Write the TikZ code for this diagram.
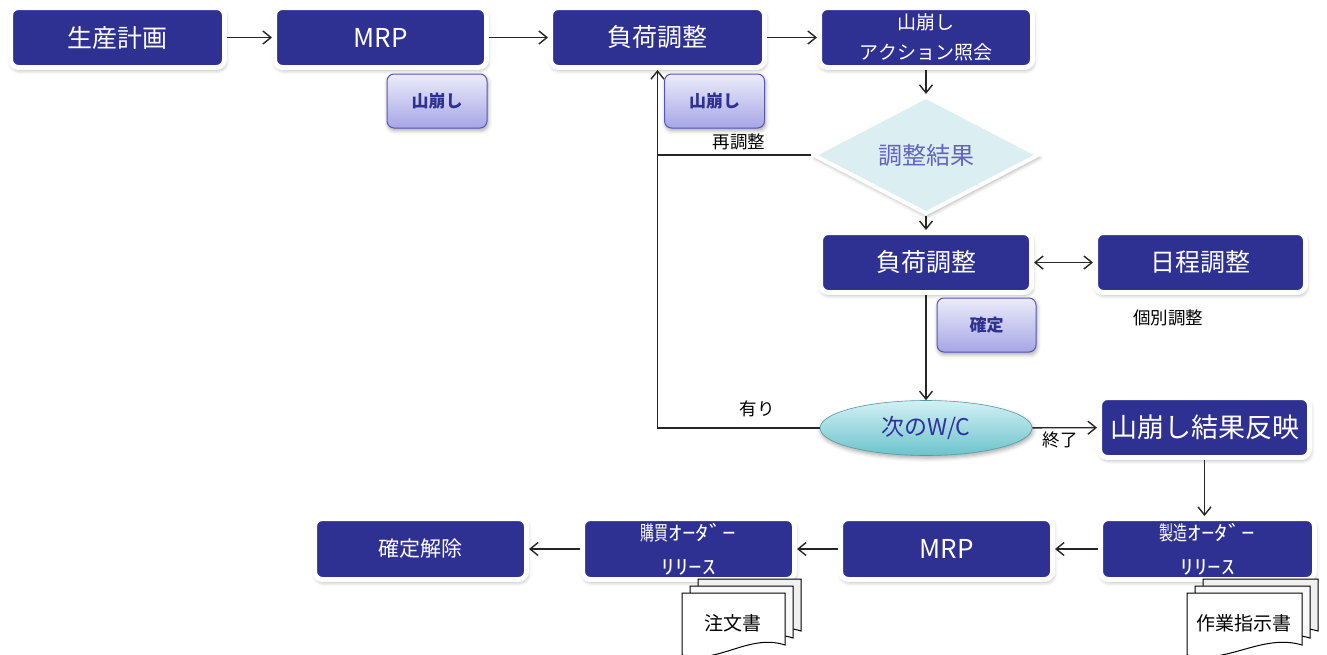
\documentclass[tikz,border=0pt]{standalone}
\usepackage{fontspec}
\setmainfont{Noto Sans CJK JP}
\newfontfamily\cjkn[FakeStretch=0.7]{Noto Sans CJK JP}
\newfontfamily\cjkw[FakeStretch=1.35]{Noto Sans CJK JP}
\usetikzlibrary{arrows.meta,shapes.geometric,shadows.blur}
\definecolor{navy}{HTML}{2E3192}
\definecolor{smtop}{HTML}{ECECFA}
\definecolor{smbot}{HTML}{A6A6E6}
\definecolor{smline}{HTML}{5656B2}
\definecolor{diafill}{HTML}{DBEEF1}
\definecolor{diatext}{HTML}{6363C6}
\definecolor{elltop}{HTML}{D2F1F4}
\definecolor{ellbot}{HTML}{6CC3CC}
\definecolor{elltext}{HTML}{3030A0}
\definecolor{lnc}{HTML}{262626}
\newcommand\docpage[4]{%
 \pgfmathsetmacro\dxr{#1+#3}\pgfmathsetmacro\ybr{#2+52}\pgfmathsetmacro\ybl{#2+62}%
 \pgfmathsetmacro\ca{#1+0.65*#3}\pgfmathsetmacro\cb{#1+0.35*#3}\pgfmathsetmacro\ya{#2+40}\pgfmathsetmacro\yb{#2+72}%
 \draw[docline,fill=#4] (#1,#2) -- (\dxr,#2) -- (\dxr,\ybr) .. controls (\ca,\ya) and (\cb,\yb) .. (#1,\ybl) -- cycle;}
\begin{document}
\begin{tikzpicture}[x=1pt,y=-1pt,
  shd/.style={blur shadow={shadow xshift=1pt, shadow yshift=-2.5pt, shadow blur radius=4pt, shadow opacity=35}},
  mainbox/.style={shd, draw=white, line width=5pt, fill=navy, rounded corners=8pt, text=white, inner sep=0pt, align=center, font=\fontsize{25}{27}\selectfont},
  twoline/.style={font=\fontsize{20}{34}\selectfont},
  smallbox/.style={shd, draw=smline, line width=1pt, top color=smtop, bottom color=smbot, rounded corners=7pt, minimum width=100, minimum height=54, text=navy, font=\fontsize{17}{19}\selectfont\bfseries, inner sep=0pt},
  lbl/.style={font=\fontsize{17.5}{19}\selectfont, text=black, inner sep=0pt},
  doctext/.style={font=\fontsize{19}{21}\selectfont, text=black, inner sep=0pt},
  docline/.style={draw=black, line width=1pt},
  ln/.style={draw=lnc, line width=1.4pt},
  arr/.style={ln, -{Straight Barb[length=8pt,width=13pt]}},
  darr/.style={ln, {Straight Barb[length=8pt,width=13pt]}-{Straight Barb[length=8pt,width=13pt]}}
]
\useasboundingbox (0,0) rectangle (1327,654);

% top row
\node[mainbox, minimum width=214, minimum height=60] (A) at (117.5,37.5) {生産計画};
\node[mainbox, minimum width=212, minimum height=60, font=\fontsize{26}{28}\selectfont] (B) at (380.5,37.5) {MRP};
\node[mainbox, minimum width=214, minimum height=60] (C) at (657.5,37.5) {負荷調整};
\node[mainbox, minimum width=213, minimum height=60, font=\fontsize{19}{30}\selectfont] (D) at (926,37.5) {山崩し\\アクション照会};
\node[smallbox] (S1) at (437,101) {山崩し};
\node[smallbox] (S2) at (714.5,101) {山崩し};

% diamond
\node[shd, diamond, draw=white, line width=4pt, fill=diafill, minimum width=226, minimum height=104, inner sep=0pt, text=diatext, font=\fontsize{24}{26}\selectfont] (E) at (926,155) {調整結果};

% middle
\node[mainbox, minimum width=211, minimum height=60] (F) at (926,262.5) {負荷調整};
\node[mainbox, minimum width=210, minimum height=60] (G) at (1200.5,262.5) {日程調整};
\node[smallbox, minimum width=99] (H) at (986.5,325) {確定};

\node[shd, ellipse, draw=ellbot!80!black, line width=0.6pt, top color=elltop, bottom color=ellbot, minimum width=212, minimum height=55, inner sep=0pt, text=elltext, font=\fontsize{23}{25}\selectfont] (I) at (926,428) {次のW/C};
\node[mainbox, minimum width=210, minimum height=60, font=\fontsize{27}{29}\selectfont] (J) at (1204.5,427.5) {山崩し結果反映};

% bottom row
\node[mainbox, minimum width=214, minimum height=61, twoline] (K) at (1207.5,549) {{\cjkn 製造}{\cjkw ｵｰﾀﾞｰ}\\{\cjkw ﾘﾘｰｽ}};
\node[mainbox, minimum width=212, minimum height=61, font=\fontsize{26}{28}\selectfont] (L) at (946.5,549) {MRP};
\node[mainbox, minimum width=212, minimum height=61, twoline] (M) at (688.5,549) {{\cjkn 購買}{\cjkw ｵｰﾀﾞｰ}\\{\cjkw ﾘﾘｰｽ}};
\node[mainbox, minimum width=212, minimum height=61, font=\fontsize{21}{23}\selectfont] (N) at (420.5,549) {確定解除};

% connectors
\draw[arr] (A) -- (B);
\draw[arr] (B) -- (C);
\draw[arr] (C) -- (D);
\draw[arr] (D) -- (E);
\draw[arr] (E) -- (F);
\draw[darr] (F) -- (G);
\draw[arr] (F) -- (I);
\draw[arr] (I) -- (J);
\draw[arr] (J.south) -- (J.south |- K.north);
\draw[arr] (K) -- (L);
\draw[arr] (L) -- (M);
\draw[arr] (M) -- (N);
\draw[ln] (E.west) -- (E.west -| C.south);
\draw[arr] (I.west) -| (C.south);

% labels
\node[lbl] (l1) at (739,142) {再調整};
\node[lbl] (l2) at (757,409) {有り};
\node[lbl] (l3) at (1060,440) {終了};
\node[lbl] (l4) at (1168,318) {個別調整};

% documents
\docpage{698}{579}{103}{gray!12}
\docpage{690}{586}{103}{gray!5}
\docpage{682}{593}{103}{white}
\node[doctext] (doc1) at (733,623) {注文書};
\docpage{1203}{579}{115}{gray!12}
\docpage{1195}{586}{115}{gray!5}
\docpage{1187}{593}{115}{white}
\node[doctext] (doc2) at (1244,623) {作業指示書};
\end{tikzpicture}
\end{document}
